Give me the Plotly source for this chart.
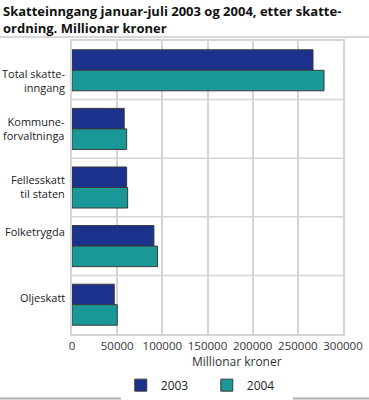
import plotly.graph_objects as go

categories = ["Total skatte-<br>inngang", "Kommune-<br>forvaltninga", "Fellesskatt<br>til staten", "Folketrygda", "Oljeskatt"]
series_names = ["2003", "2004"]
values_2003 = [266800, 57800, 60500, 90700, 46800]
values_2004 = [279000, 60500, 61600, 94700, 50100]
x_ticks = [0, 50000, 100000, 150000, 200000, 250000, 300000]
x_tick_labels = ["0", "50000", "100000", "150000", "200000", "250000", "300000"]

# vertical nudges of the category labels (pixels, style only)
label_shifts = [-10, 0, 1, 15, 7]

colors = ["#1c318c", "#1a9898"]
W, H = 369, 400
ml, mr, mt, mb = 72, 26, 41, 66
pw = W - ml - mr
ph = H - mt - mb

fig = go.Figure()
for name, vals, col in zip(series_names, [values_2003, values_2004], colors):
    fig.add_trace(go.Bar(
        y=categories, x=vals, name=name, orientation="h",
        marker=dict(color=col, line=dict(color="#3a3a3a", width=1)),
    ))

shapes = []
for i in range(len(categories) - 1):
    shapes.append(dict(type="line", xref="paper", yref="y", x0=-1 / pw, x1=1,
                       y0=i + 0.5, y1=i + 0.5, line=dict(color="#d4d4d4", width=1.5), layer="below"))
# title rule and bottom rule
shapes.append(dict(type="line", xref="paper", yref="paper", x0=-ml / pw, x1=1 + mr / pw,
                   y0=1 + 4 / ph, y1=1 + 4 / ph, line=dict(color="#b0b0b0", width=1)))
shapes.append(dict(type="line", xref="paper", yref="paper", x0=-ml / pw, x1=1 + mr / pw,
                   y0=-(H - 1.5 - mt - ph) / ph, y1=-(H - 1.5 - mt - ph) / ph, line=dict(color="#b0b0b0", width=2)))

annotations = [dict(text="Millionar kroner", xref="paper", yref="paper", x=0.61, y=-0.095,
                    xanchor="center", yanchor="middle", showarrow=False,
                    font=dict(size=12, color="#333"))]
for cat, dy in zip(categories, label_shifts):
    annotations.append(dict(text=cat, xref="paper", yref="y", x=-5 / pw, y=cat, yshift=dy,
                            xanchor="right", yanchor="middle", align="right", showarrow=False,
                            font=dict(size=11, color="#222")))

fig.update_layout(
    width=W, height=H,
    margin=dict(l=ml, r=mr, t=mt, b=mb, autoexpand=False),
    paper_bgcolor="white", plot_bgcolor="white",
    font=dict(family="Open Sans", size=12, color="#222"),
    title=dict(text="<b>Skatteinngang januar-juli 2003 og 2004, etter skatte-<br>ordning. Millionar kroner</b>",
               x=0.0, xanchor="left", y=0.96, yanchor="top", pad=dict(l=3, t=0, b=0, r=0),
               font=dict(size=13, color="#111")),
    barmode="group", bargap=0.3, bargroupgap=0,
    xaxis=dict(range=[0, 300000], tickvals=x_ticks, ticktext=x_tick_labels, tickangle=0,
               showgrid=True, gridcolor="#d4d4d4", gridwidth=1.5, automargin=False,
               showline=True, linecolor="#d4d4d4", linewidth=1.5, mirror=True,
               zeroline=False, ticks="", tickfont=dict(size=11.5, color="#333")),
    yaxis=dict(autorange="reversed", showgrid=False, showline=True, linecolor="#d4d4d4",
               linewidth=1.5, mirror=True, ticks="", showticklabels=False, automargin=False),
    legend=dict(orientation="h", x=0.18, xanchor="left", y=-0.125, yanchor="top",
                font=dict(size=12, color="#222"), entrywidth=41, entrywidthmode="pixels",
                traceorder="normal"),
    shapes=shapes,
    annotations=annotations,
)

fig.write_html("out.html", config={"displayModeBar": False},
               post_script="document.body.style.margin='0px';document.body.style.overflow='hidden';")
